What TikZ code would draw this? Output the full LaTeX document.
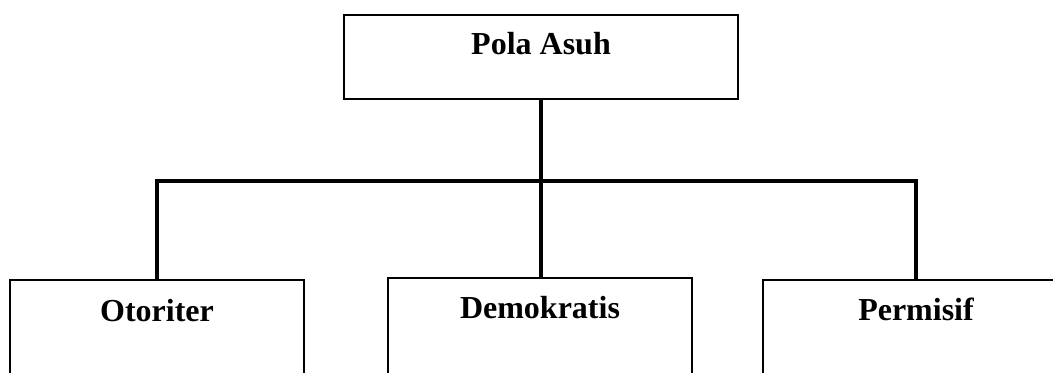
\documentclass[tikz,border=0pt]{standalone}
\usepackage{fontspec}
\setmainfont{Liberation Serif}
\newcommand{\px}{0.75pt}
\begin{document}
\begin{tikzpicture}[x=0.75pt,y=-0.75pt,
    box/.style={draw,line width=1.8pt,rectangle,inner sep=0pt,anchor=north,
      font=\fontsize{24}{28}\selectfont\bfseries},
    conn/.style={line width=2.6pt}]
    \clip (0,0) rectangle (1053,372);
    \useasboundingbox (0,0) rectangle (1053,372);

    \node[box,minimum width=394*\px,text height=39*\px,text depth=45*\px] (pola) at (541,14) {Pola Asuh};

    \node[box,minimum width=294*\px,text height=41*\px,text depth=80*\px] (otoriter) at (157,279) {Otoriter};
    \node[box,minimum width=304*\px,text height=40*\px,text depth=80*\px] (demokratis) at (540,277) {Demokratis};
    \node[box,minimum width=306*\px,text height=40*\px,text depth=80*\px] (permisif) at (916,279) {Permisif};

    \coordinate (split) at (541,181);
    \draw[conn] (pola.south) -- (pola.south |- demokratis.north);
    \draw[conn] (otoriter.north) |- (split) -| (permisif.north);
  \end{tikzpicture}
\end{document}
